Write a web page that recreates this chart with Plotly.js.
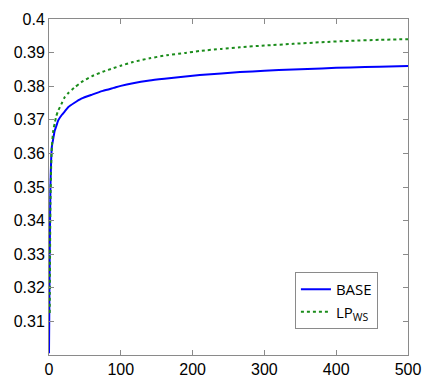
<!DOCTYPE html>
<html>
<head>
<meta charset="utf-8">
<script src="https://cdn.plot.ly/plotly-3.0.1.min.js"></script>
<style>html,body{margin:0;padding:0;background:#fff;}#chart{width:425px;height:381px;}</style>
</head>
<body>
<div id="chart"></div>
<script>
const baseX = [0,1,2,3,4,6,8,10,13,18,22,27,35,45,60,75,90,100,117,140,164,190,210,240,266,300,340,380,420,460,500];
const baseY = [0.3005,0.330,0.350,0.358,0.362,0.3645,0.3668,0.368,0.3699,0.3715,0.3725,0.3738,0.3750,0.3763,0.3775,0.3786,0.3795,0.3801,0.3809,0.3817,0.3823,0.3829,0.3833,0.3838,0.3842,0.3846,0.3850,0.3853,0.3856,0.3858,0.3860];
const lpX = [1,2,3,4,6,8,10,13,18,22,27,35,45,60,75,90,100,117,140,164,190,210,240,266,300,340,380,420,460,500];
const lpY = [0.3125,0.345,0.356,0.362,0.3669,0.369,0.371,0.3728,0.375,0.3768,0.378,0.3795,0.3812,0.3830,0.3843,0.3854,0.3861,0.3872,0.3883,0.3892,0.3899,0.3905,0.3911,0.3916,0.3921,0.3926,0.3931,0.3935,0.3938,0.3940];
const seriesNames = ['BASE', 'LP<sub>WS</sub>'];
const xTicks = [0,100,200,300,400,500];
const yTicks = [0.31,0.32,0.33,0.34,0.35,0.36,0.37,0.38,0.39,0.4];
const yTickText = ['0.31','0.32','0.33','0.34','0.35','0.36','0.37','0.38','0.39','0.4'];

const traces = [
  {x: baseX, y: baseY, name: seriesNames[0], mode: 'lines', line: {color: '#0000ff', width: 2, shape: 'spline', smoothing: 0.6}},
  {x: lpX, y: lpY, name: seriesNames[1], mode: 'lines', line: {color: '#1a8c1a', width: 2, dash: 'dot', shape: 'spline', smoothing: 0.6}}
];
const axisCommon = {
  showgrid: false, zeroline: false, showline: true, mirror: 'ticks',
  linecolor: '#8a8a8a', linewidth: 1, ticks: 'inside', ticklen: 5, tickcolor: '#8a8a8a',
  tickfont: {family: 'Liberation Sans, Arial, sans-serif', size: 16, color: '#000'}
};
const layout = {
  width: 425, height: 381,
  margin: {l: 49, r: 17, t: 19, b: 26},
  paper_bgcolor: '#fff', plot_bgcolor: '#fff',
  showlegend: true,
  legend: {
    x: 0.685, y: 0.247, xanchor: 'left', yanchor: 'top',
    bordercolor: '#8a8a8a', borderwidth: 1, bgcolor: '#fff',
    font: {family: 'Open Sans, sans-serif', size: 15, color: '#000'},
    itemwidth: 30, tracegroupgap: 0
  },
  xaxis: Object.assign({}, axisCommon, {range: [0, 500], tickvals: xTicks}),
  yaxis: Object.assign({}, axisCommon, {range: [0.3, 0.4], tickvals: yTicks, ticktext: yTickText})
};
Plotly.newPlot('chart', traces, layout, {displayModeBar: false, staticPlot: true});
</script>
</body>
</html>
